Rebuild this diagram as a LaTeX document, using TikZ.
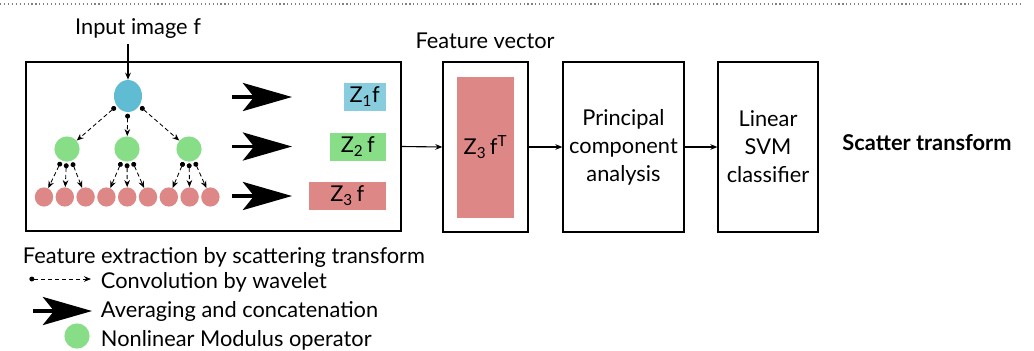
\documentclass[tikz,border=0pt]{standalone}
\usepackage{fontspec}
\setmainfont{Lato}
\usetikzlibrary{arrows, arrows.meta, shapes.geometric, positioning}
\definecolor{lightblue}{HTML}{87CDDE}
\definecolor{darkblue}{HTML}{5FBCD3}
\definecolor{mygreen}{HTML}{87DE87}
\definecolor{myred}{HTML}{DE8787}
\tikzstyle{box} = [rectangle, draw=black, line width=0.9pt, inner sep=0pt]
\tikzstyle{blueball} = [ellipse, fill=darkblue, minimum width=0.7cm, minimum height=0.8cm, inner sep=0pt]
\tikzstyle{greenball} = [circle, fill=mygreen, minimum size=0.63cm, inner sep=0pt]
\tikzstyle{redball} = [ellipse, fill=myred, minimum width=0.46cm, minimum height=0.48cm, inner sep=0pt]
\tikzstyle{zbox} = [rectangle, minimum height=0.7cm, inner sep=0pt, anchor=east]
\tikzstyle{wavelet} = [densely dashed, line width=0.6pt, {Circle[length=3.5pt,width=3.5pt]}-{Stealth[length=5pt,width=4pt]}, shorten <=1pt]
\tikzstyle{average} = [line width=2.2pt, -{Stealth[length=35pt,width=20pt,inset=8pt]}]
\tikzstyle{arrow} = [line width=0.8pt, -{Stealth[length=5pt,width=4pt]}]

\begin{document}
\begin{tikzpicture}[x=0.25mm, y=-0.25mm, node distance=0.52cm, every node/.style={font=\fontsize{15.5}{20}\selectfont}, align=center]
\useasboundingbox (0,0) rectangle (1034,350);

\draw[gray, dotted, line width=0.8pt] (0,4) -- (1022,4);

\node (scatter) [box, minimum width=9.375cm, minimum height=4.225cm] at (213.5,146.5) {};

\node (input) at (138,29) {Input image f};

\node (b) [blueball] at (128,96) {};
\draw[arrow] (input.south -| b.north) -- (b.north);

\node (g1) [greenball] at (67,149) {};
\node (g2) [greenball] at (127,149) {};
\node (g3) [greenball] at (189,149) {};

\node (r1) [redball] at (44,197) {};
\node (r2) [redball, right of=r1] {};
\node (r3) [redball, right of=r2] {};
\node (r4) [redball, right of=r3] {};
\node (r5) [redball, right of=r4] {};
\node (r6) [redball, right of=r5] {};
\node (r7) [redball, right of=r6] {};
\node (r8) [redball, right of=r7] {};
\node (r9) [redball, right of=r8] {};

\draw[wavelet] (b) -- (g1);
\draw[wavelet] (b) -- (g2);
\draw[wavelet] (b) -- (g3);

\draw[wavelet] (g1) -- (r1);
\draw[wavelet] (g1) -- (r2);
\draw[wavelet] (g1) -- (r3);
\draw[wavelet] (g2) -- (r4);
\draw[wavelet] (g2) -- (r5);
\draw[wavelet] (g2) -- (r6);
\draw[wavelet] (g3) -- (r7);
\draw[wavelet] (g3) -- (r8);
\draw[wavelet] (g3) -- (r9);

\node (z1) [zbox, fill=lightblue, minimum width=1.05cm] at (386,97) {Z\textsubscript{1}f};
\node (z2) [zbox, fill=mygreen, minimum width=1.4cm] at (386,146.5) {Z\textsubscript{2}\,f};
\node (z3) [zbox, fill=myred, minimum width=1.925cm] at (386,196) {Z\textsubscript{3}\,f};

\coordinate (avg1s) at (232,97);
\coordinate (avg1e) at (292,97);
\coordinate (avg2s) at (232,146.5);
\coordinate (avg2e) at (292,146.5);
\coordinate (avg3s) at (232,196);
\coordinate (avg3e) at (292,196);
\draw[average] (avg1s) -- (avg1e);
\draw[average] (avg2s) -- (avg2e);
\draw[average] (avg3s) -- (avg3e);

\node (fv) [box, minimum width=2.125cm, minimum height=4.25cm] at (485.5,147) {};
\node (zt) [fill=myred, minimum width=1.425cm, minimum height=3.525cm, inner sep=0pt] at (fv.center) {Z\textsubscript{3}\,f\textsuperscript{T}};
\node (fvlabel) at (485,41) {Feature vector};

\node (pca) [box, minimum width=3.025cm, minimum height=4.25cm] at (623.5,147) {Principal\\component\\analysis};

\node (svm) [box, minimum width=2.5cm, minimum height=4.25cm] at (768,147) {Linear\\SVM\\classifier};

\node (title) at (927,143) {\bfseries Scatter transform};

\draw[arrow] (scatter.east) -- (fv.west);
\draw[arrow] (fv) -- (pca);
\draw[arrow] (pca) -- (svm);

\node (legtitle) [anchor=west] at (18,257) {Feature extraction by scattering transform};

\coordinate (legw1) at (28,279);
\coordinate (legw2) at (91,279);
\draw[wavelet] (legw1) -- (legw2);
\node (legwtext) [anchor=west] at (96,282) {Convolution by wavelet};

\coordinate (lega1) at (33,311);
\coordinate (lega2) at (92,311);
\draw[average] (lega1) -- (lega2);
\node (legatext) [anchor=west] at (96,311) {Averaging and concatenation};

\node (legg) [greenball] at (77,336) {};
\node (leggtext) [anchor=west] at (96,340) {Nonlinear Modulus operator};

\end{tikzpicture}
\end{document}
